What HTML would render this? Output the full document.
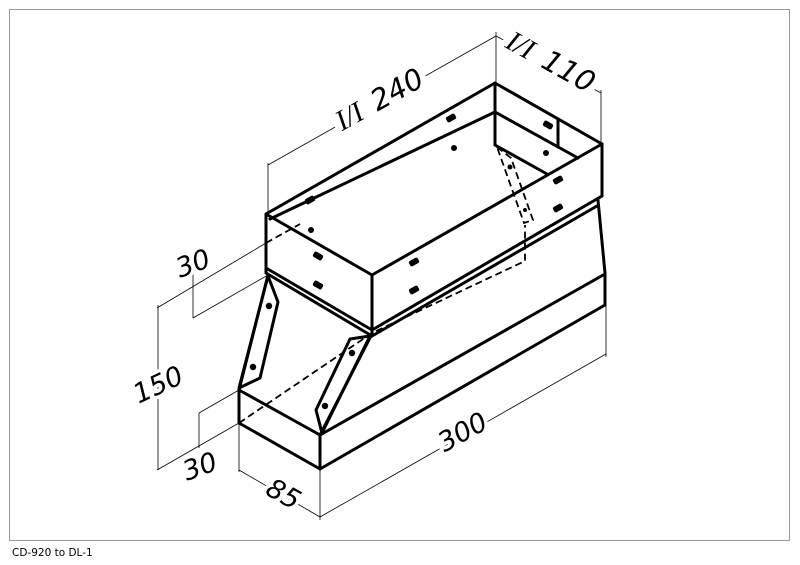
<!DOCTYPE html>
<html><head><meta charset="utf-8"><style>
html,body{margin:0;padding:0;background:#fff;}
svg{display:block;}
.t{font-family:"DejaVu Sans","Liberation Sans",sans-serif;font-style:italic;font-size:27px;fill:#000;stroke:#fff;stroke-width:7px;paint-order:stroke;word-spacing:4px;}
.s{font-family:"Liberation Serif",serif;}
</style></head><body>
<svg width="800" height="565" viewBox="0 0 800 565" xmlns="http://www.w3.org/2000/svg">
<rect x="9.5" y="9.5" width="780" height="531" fill="none" stroke="#999" stroke-width="1"/>
<text x="12" y="556" font-family="'DejaVu Sans','Liberation Sans',sans-serif" font-size="10.5" fill="#000">CD-920 to DL-1</text>

<g stroke="#000" stroke-width="0.8" fill="none">
  <line x1="268" y1="214" x2="268" y2="163"/>
  <line x1="268" y1="165" x2="496" y2="36"/>
  <line x1="496" y1="83" x2="496" y2="32"/>
  <line x1="496" y1="36" x2="601" y2="93"/>
  <line x1="601" y1="144" x2="601" y2="90"/>
  <line x1="266" y1="243" x2="157" y2="308"/>
  <line x1="268" y1="275" x2="193" y2="318"/>
  <line x1="193" y1="272" x2="193" y2="318"/>
  <line x1="158" y1="305" x2="158" y2="470"/>
  <line x1="239" y1="423" x2="157" y2="470"/>
  <line x1="239" y1="390" x2="199" y2="413"/>
  <line x1="199" y1="413" x2="199" y2="448"/>
  <line x1="239" y1="423" x2="239" y2="472"/>
  <line x1="320" y1="469" x2="320" y2="520"/>
  <line x1="239" y1="470" x2="320" y2="517"/>
  <line x1="320" y1="517" x2="606" y2="354"/>
  <line x1="606" y1="305" x2="606" y2="357"/>
</g>

<rect transform="translate(384,108) rotate(-29)" x="-52" y="-24" width="104" height="28" fill="#fff"/>
<rect transform="translate(546,70) rotate(29)" x="-52" y="-24" width="104" height="28" fill="#fff"/>

<g class="t">
  <text transform="translate(384,108) rotate(-29)" text-anchor="middle" font-size="29"><tspan class="s">I/I</tspan> 240</text>
  <text transform="translate(546,70) rotate(29)" text-anchor="middle" font-size="29"><tspan class="s">I/I</tspan> 110</text>
  <text transform="translate(196,272) rotate(-20)" text-anchor="middle">30</text>
  <text transform="translate(162,393) rotate(-25)" text-anchor="middle">150</text>
  <text transform="translate(203,475) rotate(-20)" text-anchor="middle">30</text>
  <text transform="translate(279,502) rotate(29)" text-anchor="middle">85</text>
  <text transform="translate(467,440) rotate(-29)" text-anchor="middle">300</text>
</g>

<g stroke="#000" stroke-width="3" fill="none" stroke-linejoin="round" stroke-linecap="round">
  <polygon points="266,214 495,83 602,144 372,275"/>
  <line x1="495" y1="83" x2="495" y2="145"/>
  <line x1="495" y1="112" x2="270" y2="219"/>
  <line x1="495" y1="112" x2="578" y2="158"/>
  <line x1="558" y1="119" x2="558" y2="147"/>
  <line x1="495" y1="145" x2="547" y2="174"/>
  <line x1="266" y1="214" x2="266" y2="272"/>
  <line x1="372" y1="275" x2="372" y2="336"/>
  <line x1="602" y1="144" x2="602" y2="196"/>
  <line x1="266" y1="268" x2="372" y2="330"/>
  <line x1="372" y1="330" x2="602" y2="196"/>
  <line x1="266" y1="273" x2="372" y2="336"/>
  <line x1="372" y1="336" x2="597" y2="206"/>
  <line x1="598" y1="200" x2="605" y2="273"/>
  <line x1="605" y1="273" x2="605" y2="305"/>
  <line x1="605" y1="274" x2="320" y2="435"/>
  <line x1="605" y1="305" x2="320" y2="469"/>
  <line x1="239" y1="390" x2="320" y2="435"/>
  <line x1="239" y1="390" x2="239" y2="423"/>
  <line x1="239" y1="423" x2="320" y2="469"/>
  <line x1="320" y1="435" x2="320" y2="469"/>
  <line x1="268" y1="275" x2="239" y2="390"/>
  <line x1="372" y1="334" x2="320" y2="435"/>
  <polygon points="268,276 278,302 260,378 239,388"/>
  <polygon points="350,339 370,336 322,433 316,410"/>
</g>
<g stroke="#000" stroke-width="1.8" fill="none" stroke-dasharray="7,4">
  <polyline points="239,423 372,333 525,261 525,225"/>
  <polygon points="497,147 511,158 533,220 524,223"/>
  <line x1="266" y1="243" x2="300" y2="224"/>
</g>

<g fill="#000">
  <circle cx="454" cy="148" r="3"/>
  <circle cx="546" cy="153" r="3"/>
  <circle cx="311" cy="230" r="3"/>
  <circle cx="269" cy="306" r="3.2"/>
  <circle cx="253" cy="367" r="3.2"/>
  <circle cx="352" cy="353" r="3.2"/>
  <circle cx="325" cy="406" r="3.2"/>
  <circle cx="510" cy="167" r="2.5"/>
  <circle cx="525" cy="210" r="2"/>
  <g transform="rotate(-29 451 118)"><rect x="446" y="115" width="10" height="6" rx="2"/></g>
  <g transform="rotate(-29 310 200)"><rect x="305" y="197" width="10" height="6" rx="2"/></g>
  <g transform="rotate(30 548 125)"><rect x="543" y="122" width="10" height="6" rx="2"/></g>
  <g transform="rotate(-29 558 180)"><rect x="553" y="177" width="10" height="6" rx="2"/></g>
  <g transform="rotate(-29 558 208)"><rect x="553" y="205" width="10" height="6" rx="2"/></g>
  <g transform="rotate(30 318 256)"><rect x="313" y="253" width="10" height="6" rx="2"/></g>
  <g transform="rotate(30 318 285)"><rect x="313" y="282" width="10" height="6" rx="2"/></g>
  <g transform="rotate(-29 414 262)"><rect x="409" y="259" width="10" height="6" rx="2"/></g>
  <g transform="rotate(-29 414 290)"><rect x="409" y="287" width="10" height="6" rx="2"/></g>
</g>
</svg>
</body></html>
